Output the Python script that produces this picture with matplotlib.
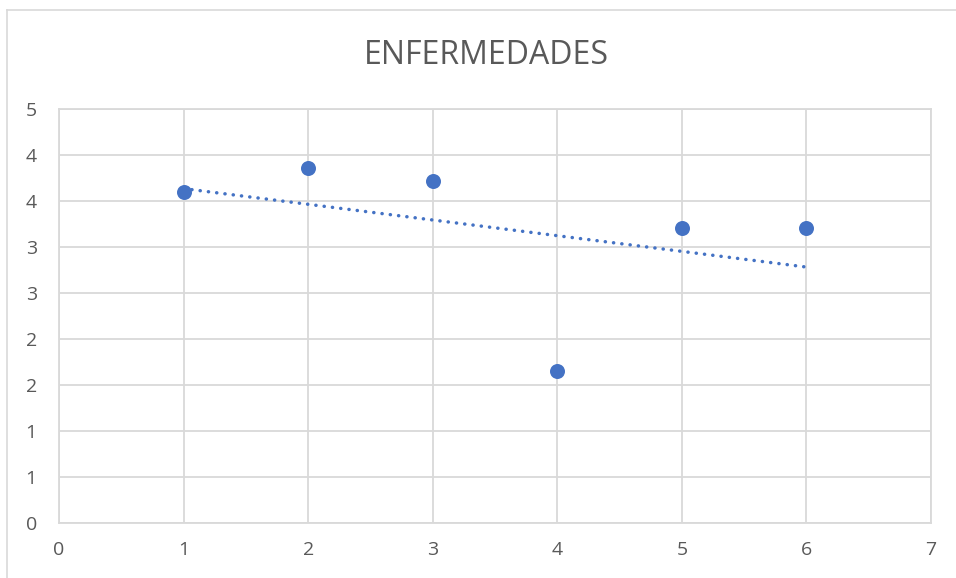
import matplotlib
matplotlib.use("Agg")
import matplotlib.pyplot as plt
from matplotlib.lines import Line2D
import numpy as np

# Data
x_values = [1, 2, 3, 4, 5, 6]
y_values = [3.60, 3.86, 3.72, 1.65, 3.21, 3.21]
x_ticks = [0, 1, 2, 3, 4, 5, 6, 7]
y_ticks = [0, 0.5, 1, 1.5, 2, 2.5, 3, 3.5, 4, 4.5]
y_tick_labels = ["0", "1", "1", "2", "2", "3", "3", "4", "4", "5"]
title = "ENFERMEDADES"

blue = "#4472C4"
grid = "#D9D9D9"
text_color = "#595959"

plt.rcParams["font.family"] = ["Open Sans", "DejaVu Sans"]

fig = plt.figure(figsize=(9.56, 5.78), dpi=100)
W, H = 956, 578
ax = fig.add_axes([59 / W, 1 - 523 / H, (931 - 59) / W, (523 - 109) / H])

ax.set_xlim(0, 7)
ax.set_ylim(0, 4.5)
ax.set_xticks(x_ticks)
ax.set_xticklabels([str(t) for t in x_ticks])
ax.set_yticks(y_ticks)
ax.set_yticklabels(y_tick_labels)
ax.tick_params(length=0, labelsize=14, colors=text_color)
ax.tick_params(axis="y", pad=16)
ax.tick_params(axis="x", pad=13)

ax.grid(True, color=grid, linewidth=1.3)
ax.set_axisbelow(True)
for s in ax.spines.values():
    s.set_color(grid)
    s.set_linewidth(1.3)

# Linear trendline
slope, intercept = np.polyfit(x_values, y_values, 1)
tx = np.array([min(x_values), max(x_values)])
ax.plot(tx, slope * tx + intercept, color=blue, linewidth=2.5,
        linestyle=(0, (0.05, 2.35)), dash_capstyle="round", zorder=2)

ax.plot(x_values, y_values, "o", color=blue, markersize=10.8,
        markeredgewidth=0, zorder=3)

fig.text(486 / W, 1 - 55 / H, title, ha="center", va="center",
         fontsize=23, color=text_color)

# Chart frame
fig.add_artist(Line2D([6.5 / W, 6.5 / W], [0, 1 - 9.5 / H],
                      transform=fig.transFigure, color=grid, linewidth=1.2))
fig.add_artist(Line2D([6.5 / W, 1], [1 - 9.5 / H, 1 - 9.5 / H],
                      transform=fig.transFigure, color=grid, linewidth=1.2))

fig.savefig("out.png", dpi=100)
